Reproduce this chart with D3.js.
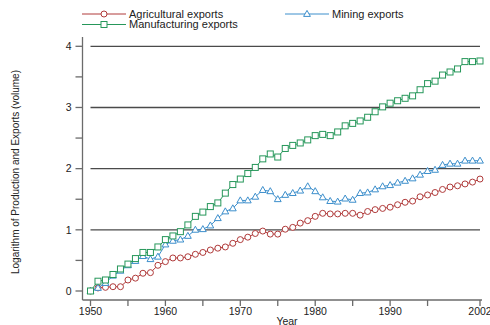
<!DOCTYPE html>
<html>
<head>
<meta charset="utf-8">
<script src="https://cdn.jsdelivr.net/npm/d3@7"></script>
<style>
  body { margin: 0; background: #fff; }
  svg { font-family: "Liberation Sans", Arial, sans-serif; }
</style>
</head>
<body>
<div id="chart"></div>
<script>
const years = d3.range(1950, 2003);
const agricultural = [0, 0.05, 0.06, 0.07, 0.07, 0.18, 0.21, 0.29, 0.30, 0.42,
    0.48, 0.54, 0.54, 0.56, 0.60, 0.63, 0.67, 0.70, 0.72, 0.78,
    0.84, 0.88, 0.94, 0.98, 0.93, 0.93, 1.01, 1.04, 1.11, 1.15,
    1.22, 1.27, 1.26, 1.26, 1.27, 1.27, 1.24, 1.30, 1.33, 1.35,
    1.37, 1.41, 1.45, 1.47, 1.54, 1.57, 1.61, 1.66, 1.70, 1.72,
    1.75, 1.78, 1.83];
const mining = [0, 0.05, 0.13, 0.25, 0.33, 0.42, 0.49, 0.57, 0.52, 0.56,
    0.76, 0.82, 0.84, 0.90, 1.00, 1.01, 1.07, 1.19, 1.30, 1.35,
    1.48, 1.48, 1.54, 1.65, 1.63, 1.50, 1.57, 1.60, 1.64, 1.71,
    1.63, 1.53, 1.47, 1.46, 1.51, 1.49, 1.60, 1.61, 1.66, 1.71,
    1.73, 1.77, 1.80, 1.84, 1.90, 1.96, 1.98, 2.06, 2.08, 2.08,
    2.13, 2.13, 2.13];
const manufacturing = [0, 0.16, 0.18, 0.27, 0.36, 0.44, 0.53, 0.63, 0.63, 0.72,
    0.84, 0.90, 0.97, 1.08, 1.22, 1.29, 1.38, 1.44, 1.60, 1.74,
    1.83, 1.92, 2.02, 2.16, 2.24, 2.19, 2.33, 2.38, 2.42, 2.47,
    2.54, 2.56, 2.54, 2.60, 2.70, 2.74, 2.78, 2.84, 2.93, 3.01,
    3.07, 3.11, 3.15, 3.19, 3.29, 3.39, 3.43, 3.53, 3.58, 3.63,
    3.75, 3.75, 3.76];
const xTicks = [1950, 1960, 1970, 1980, 1990, 2002];
const xMinor = [1955, 1965, 1975, 1985, 1995];
const yTicks = [0, 1, 2, 3, 4];
const yMinor = [0.5, 1.5, 2.5, 3.5];

const width = 490, height = 325;
const svg = d3.select('#chart')
    .append('svg')
    .attr('width', width)
    .attr('height', height);

const x = d3.scaleLinear().domain([1950, 2002]).range([90.5, 480]);
const y = d3.scaleLinear().domain([0, 4]).range([291, 46.3]);
const axisColor = '#6b6b6b';

// Grid lines
svg.selectAll('.grid')
    .data(yTicks.slice(1))
    .enter()
    .append('line')
    .attr('x1', x(1950))
    .attr('x2', x(2002))
    .attr('y1', d => y(d))
    .attr('y2', d => y(d))
    .attr('stroke', '#4a4a4a')
    .attr('stroke-width', 1.3);

// Y axis
const yAxis = svg.append('g')
    .attr('transform', 'translate(82.5,0)');
yAxis.append('line')
    .attr('y1', 37).attr('y2', 300)
    .attr('stroke', axisColor).attr('stroke-width', 1.3);
yAxis.selectAll('.tk')
    .data(yTicks.concat(yMinor))
    .enter()
    .append('line')
    .attr('x1', -7).attr('x2', 0)
    .attr('y1', d => y(d)).attr('y2', d => y(d))
    .attr('stroke', axisColor).attr('stroke-width', 1.3);
yAxis.selectAll('.lb')
    .data(yTicks)
    .enter()
    .append('text')
    .attr('x', -11)
    .attr('y', d => y(d))
    .attr('dy', '0.35em')
    .attr('text-anchor', 'end')
    .attr('font-size', '10.5px')
    .attr('fill', '#222')
    .text(d => d);

// X axis
const xAxis = svg.append('g')
    .attr('transform', 'translate(0,300)');
xAxis.append('line')
    .attr('x1', 82.5).attr('x2', 482)
    .attr('stroke', axisColor).attr('stroke-width', 1.3);
xAxis.selectAll('.tk')
    .data(xTicks.concat(xMinor))
    .enter()
    .append('line')
    .attr('x1', d => x(d)).attr('x2', d => x(d))
    .attr('y1', 0).attr('y2', 6)
    .attr('stroke', axisColor).attr('stroke-width', 1.3);
xAxis.selectAll('.lb')
    .data(xTicks)
    .enter()
    .append('text')
    .attr('x', d => x(d))
    .attr('y', 15)
    .attr('text-anchor', 'middle')
    .attr('font-size', '10.5px')
    .attr('fill', '#222')
    .text(d => d);

svg.append('text')
    .attr('x', 287)
    .attr('y', 325)
    .attr('text-anchor', 'middle')
    .attr('font-size', '10.5px')
    .attr('fill', '#222')
    .text('Year');

svg.append('text')
    .attr('transform', 'translate(15,172) rotate(-90)')
    .attr('text-anchor', 'middle')
    .attr('dy', '0.35em')
    .attr('font-size', '10px')
    .attr('fill', '#222')
    .text('Logarithm of Production and Exports (volume)');

// Series
const series = [
    {name: 'Agricultural exports', values: agricultural, color: '#b03a3a', shape: 'circle'},
    {name: 'Mining exports', values: mining, color: '#3d8fcc', shape: 'triangle'},
    {name: 'Manufacturing exports', values: manufacturing, color: '#26975a', shape: 'square'}
];

function drawMarker(g, shape, color) {
    if (shape === 'circle') {
        g.append('circle').attr('r', 3)
            .attr('fill', '#fff').attr('stroke', color).attr('stroke-width', 1);
    } else if (shape === 'square') {
        g.append('rect').attr('x', -3).attr('y', -3).attr('width', 6).attr('height', 6)
            .attr('fill', '#fff').attr('stroke', color).attr('stroke-width', 1);
    } else {
        g.append('path').attr('d', 'M0,-3.6L3.4,2.4L-3.4,2.4Z')
            .attr('fill', '#fff').attr('stroke', color).attr('stroke-width', 1);
    }
}

const line = d3.line()
    .x((d, i) => x(years[i]))
    .y(d => y(d));

series.forEach(s => {
    svg.append('path')
        .datum(s.values)
        .attr('fill', 'none')
        .attr('stroke', s.color)
        .attr('stroke-width', 1)
        .attr('d', line);
    svg.append('g')
        .selectAll('g')
        .data(s.values)
        .enter()
        .append('g')
        .attr('transform', (d, i) => `translate(${x(years[i])},${y(d)})`)
        .each(function() { drawMarker(d3.select(this), s.shape, s.color); });
});

// Legend
const legendItems = [
    {s: series[0], x: 82, y: 14},
    {s: series[1], x: 285, y: 14},
    {s: series[2], x: 82, y: 24.5}
];
legendItems.forEach(item => {
    const g = svg.append('g').attr('transform', `translate(${item.x},${item.y})`);
    g.append('line')
        .attr('x1', 0).attr('x2', 44)
        .attr('stroke', item.s.color).attr('stroke-width', 1);
    drawMarker(g.append('g').attr('transform', 'translate(22,0)'), item.s.shape, item.s.color);
    g.append('text')
        .attr('x', 47)
        .attr('dy', '0.35em')
        .attr('font-size', '11px')
        .attr('fill', '#222')
        .text(item.s.name);
});
</script>
</body>
</html>
